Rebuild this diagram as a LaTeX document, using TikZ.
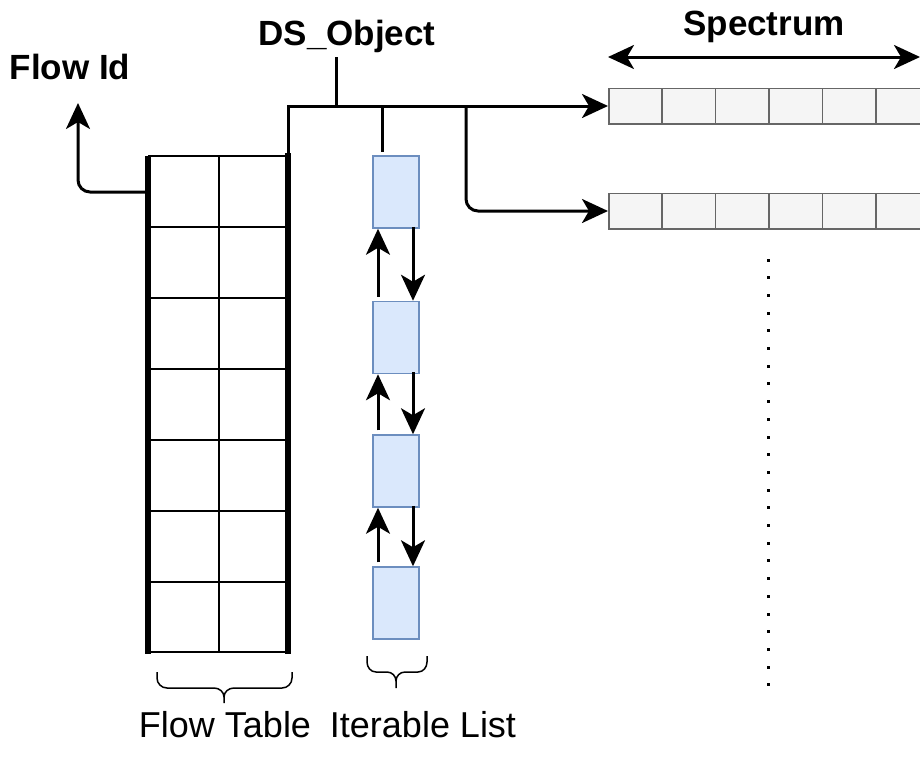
\documentclass[tikz,border=0pt]{standalone}
\usepackage{fontspec}
\setmainfont{Liberation Sans}
\usetikzlibrary{arrows.meta}
\definecolor{itemfill}{HTML}{DAE8FC}
\definecolor{itemline}{HTML}{6C8EBF}
\definecolor{cellfill}{HTML}{F5F5F5}
\definecolor{cellline}{HTML}{666666}
\begin{document}
\begin{tikzpicture}[x=1pt,y=-1pt,
  conn/.style={line width=3pt},
  tip/.style={-{Stealth[length=26pt,width=24pt,inset=7pt]}},
  twotip/.style={{Stealth[length=26pt,width=24pt,inset=7pt]}-{Stealth[length=26pt,width=24pt,inset=7pt]}},
  title/.style={font=\fontsize{35}{42}\selectfont\bfseries, anchor=base, inner sep=0pt},
  caption/.style={font=\fontsize{36}{42}\selectfont, anchor=base, inner sep=0pt},
  cell/.style={draw=cellline, fill=cellfill, line width=1.5pt, minimum width=53.4pt,
               minimum height=35.5pt, inner sep=0pt, anchor=west},
  item/.style={draw=itemline, fill=itemfill, line width=1.5pt, minimum width=46pt,
               minimum height=72pt, inner sep=0pt},
  gridline/.style={line width=2pt},
  rail/.style={line width=6.5pt},
  brace/.style={line width=1.5pt},
]
\useasboundingbox (0,0) rectangle (920,756);
\clip (0,0) rectangle (920,756);

% ---- flow table: 2 columns x 7 rows ----
\node[minimum width=140pt, minimum height=497pt, inner sep=0pt] (ft) at (218,404.5) {};
\foreach \r in {156,227,298,369,440,511,582,652}
  \draw[gridline] (148,\r) -- (288,\r);
\draw[gridline] (219,156) -- (219,652);
\draw[rail] (148,156) -- (148,654);
\draw[rail] (288,153) -- (288,654);

% ---- iterable list ----
\node[item] (l1) at (396,192) {};
\node[item] (l2) at (396,337.5) {};
\node[item] (l3) at (396,471) {};
\node[item] (l4) at (396,603) {};
\foreach \a/\b in {l1/l2,l2/l3,l3/l4}{
  \draw[conn,tip] ([xshift=-18pt,yshift=4pt]\b.north) -- ([xshift=-18pt]\a.south);
  \draw[conn,tip] ([xshift=17pt,yshift=2pt]\a.south) -- ([xshift=17pt]\b.north);
}

% ---- spectrum rows ----
\foreach \i in {1,...,6}{
  \node[cell] (s1c\i) at ({608+(\i-1)*53.4},106) {};
  \node[cell] (s2c\i) at ({608+(\i-1)*53.4},211) {};
}
\foreach \k in {0,...,24}
  \fill (766.5,{258.5+\k*17.7}) rectangle ++(3,3);

% ---- labels ----
\node[title] (fid) at (70,79) {Flow Id};
\node[title] (ds) at (347,45) {DS\_Object};
\node[title] (spec) at (764,35) {Spectrum};
\node[caption] (ftcap) at (225,737) {Flow Table};
\node[caption] (licap) at (423,737) {Iterable List};

% ---- connectors ----
\coordinate (fidstart) at (146,192);
\coordinate (fidtip) at (78,103);
\draw[conn,tip,rounded corners=12pt] (fidstart) -| (fidtip);

\coordinate (dsfoot) at (336,57);
\coordinate (dsjoin) at (336,106);
\coordinate (lbranch) at (382,106);
\coordinate (sbranch) at (466,106);
\draw[conn,tip] ([yshift=3pt]ft.north east) |- (s1c1.west);
\draw[conn] (dsfoot) -- (dsjoin);
\draw[conn] (lbranch) -- ([yshift=3pt]lbranch |- l1.north);
\draw[conn,tip,rounded corners=12pt] (sbranch) |- (s2c1.west);

\coordinate (specL) at (608,57);
\coordinate (specR) at (920,57);
\draw[conn,twotip] (specL) -- (specR);

% ---- braces ----
\draw[brace] (157,672) -- (157,678) to[out=-90,in=180] (167,688) -- (214,688)
  to[out=0,in=90] (224,697) -- (224,703);
\draw[brace] (292,672) -- (292,678) to[out=-90,in=0] (282,688) -- (234,688)
  to[out=180,in=90] (224,697);
\draw[brace] (367,656) -- (367,662) to[out=-90,in=180] (376,672) -- (387,672)
  to[out=0,in=90] (396,681) -- (396,688);
\draw[brace] (427,656) -- (427,662) to[out=-90,in=0] (418,672) -- (405,672)
  to[out=180,in=90] (396,681);
\end{tikzpicture}
\end{document}
